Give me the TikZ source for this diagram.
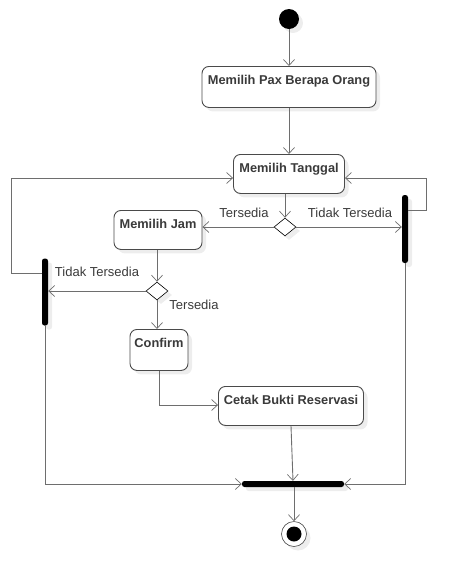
\documentclass[tikz,border=0pt]{standalone}
\usepackage{fontspec}
\setmainfont{Liberation Sans}
\usetikzlibrary{arrows.meta,shapes.geometric,shadows}
\definecolor{lin}{HTML}{6E6E6E}
\definecolor{bord}{HTML}{4A4A4A}
\definecolor{txt}{HTML}{3A3A3A}
\tikzset{
  shad/.style={drop shadow={shadow xshift=4pt,shadow yshift=-4pt,fill=black!7,opacity=1}},
  act/.style={draw=bord,line width=0.9pt,rounded corners=7pt,fill=white,shad,
    font=\bfseries\fontsize{12.8}{14}\selectfont,text=txt,anchor=north,
    text height=15pt,text depth=20pt,inner ysep=3pt,inner xsep=0pt,align=center},
  dec/.style={draw=black,line width=0.6pt,diamond,fill=white,inner sep=0pt,minimum width=22pt,minimum height=18pt,shad},
  bar/.style={fill=black,rounded corners=2.5pt,inner sep=0pt,shad},
  flow/.style={draw=lin,line width=0.9pt,-{Straight Barb[length=6pt,width=11pt,line width=0.7pt]}},
  lbl/.style={font=\fontsize{13}{15}\selectfont,text=txt,inner sep=0pt}
}
\begin{document}
\begin{tikzpicture}[x=1pt,y=-1pt]
\useasboundingbox (0,0) rectangle (467,587);
% start
\node[circle,fill=black,minimum size=20pt,inner sep=0pt,shad] (start) at (289,19) {};
% actions
\node[act,minimum width=174pt] (pax) at (289,66) {Memilih Pax Berapa Orang};
\node[act,minimum width=111pt,text depth=18pt] (tgl) at (289,154) {Memilih Tanggal};
\node[act,minimum width=88pt,text depth=18pt] (jam) at (158,210) {Memilih Jam};
\node[act,minimum width=58pt] (conf) at (159,329) {Confirm};
\node[act,minimum width=145pt,text depth=18pt] (cetak) at (291,386) {Cetak Bukti Reservasi};
% decisions
\node[dec] (d1) at (285,227) {};
\node[dec] (d2) at (157,291) {};
% bars
\node[bar,minimum width=6pt,minimum height=68pt] (rbar) at (405,229) {};
\node[bar,minimum width=6pt,minimum height=67pt] (lbar) at (45,292) {};
\node[bar,minimum width=102pt,minimum height=6pt] (join) at (293,484) {};
% end
\node[circle,draw=bord,line width=0.6pt,fill=white,minimum size=25pt,inner sep=0pt,shad] (end) at (294,534) {};
\node[circle,fill=black,minimum size=15pt,inner sep=0pt] (endin) at (end.center) {};
% connectors
\draw[flow] (start) -- (pax.north);
\draw[flow] (pax.south) -- (pax.south |- tgl.north);
\draw[flow] (tgl.south -| d1.north) -- (d1.north);
\draw[flow] (d1.west) -- (jam.east |- d1.west);
\draw[flow] (d1.east) -- (rbar.west |- d1.east);
\node[lbl] (l1) at (244,213) {Tersedia};
\node[lbl] (l2) at (350,213) {Tidak Tersedia};
\coordinate (r1) at (426,210);
\coordinate (r2) at (426,178);
\draw[flow] (rbar.east |- r1) -- (r1) -- (r2) -- (tgl.east |- r2);
\coordinate (q1) at (11,273);
\coordinate (q2) at (11,178);
\draw[flow] (lbar.west |- q1) -- (q1) -- (q2) -- (tgl.west |- q2);
\draw[flow] (jam.south -| d2.north) -- (d2.north);
\draw[flow] (d2.west) -- (lbar.east |- d2.west);
\node[lbl] (l3) at (97,272) {Tidak Tersedia};
\draw[flow] (d2.south) -- (d2.south |- conf.north);
\node[lbl] (l4) at (194,305) {Tersedia};
\coordinate (c1) at (159,405);
\draw[flow] (conf.south) -- (c1) -- (cetak.west |- c1);
\draw[flow] (cetak.south) -- (join.north);
\coordinate (b1) at (45,484);
\draw[flow] (lbar.south) -- (b1) -- (join.west);
\coordinate (b2) at (405,484);
\draw[flow] (rbar.south) -- (b2) -- (join.east);
\draw[flow] (join.south -| end.north) -- (end.north);
\end{tikzpicture}
\end{document}
